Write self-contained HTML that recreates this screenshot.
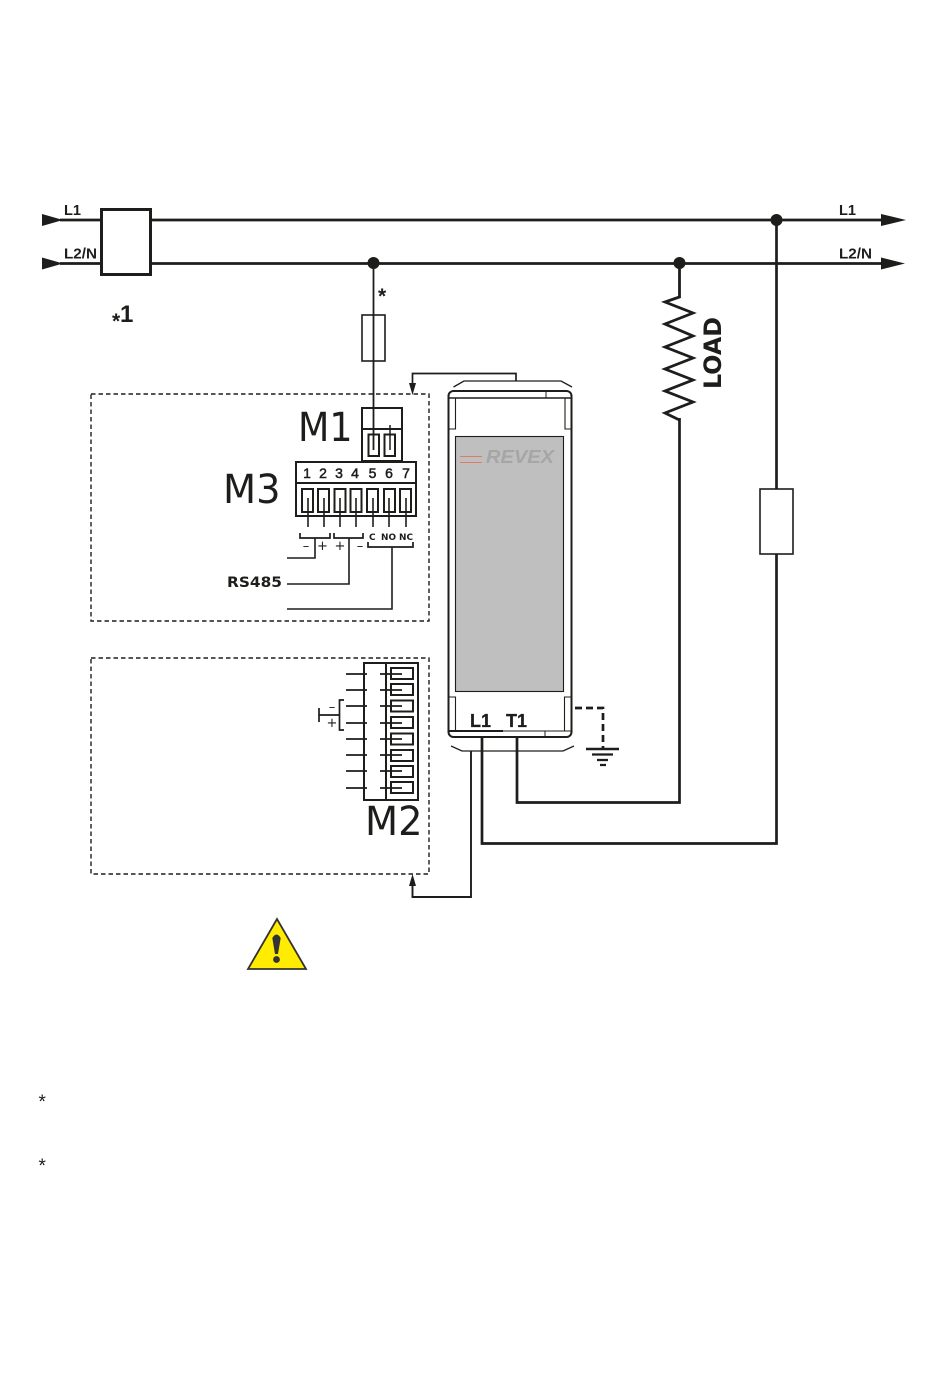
<!DOCTYPE html>
<html><head><meta charset="utf-8"><style>html,body{margin:0;padding:0;background:#fff}svg{display:block}text{fill:#1d1d1b}</style></head>
<body>
<svg width="950" height="1387" viewBox="0 0 950 1387" xmlns="http://www.w3.org/2000/svg" font-family="'Liberation Sans',sans-serif">
<rect width="950" height="1387" fill="#fff"/>
<g fill="none" stroke="#1d1d1b">
<!-- bus -->
<path d="M60 220H101M151 220H885M60 263.5H101M151 263.5H885" stroke-width="2.8"/>
<rect x="101.5" y="209.5" width="49" height="65" stroke-width="3"/>
<!-- dashed -->
<rect x="91" y="394" width="338" height="227" stroke-width="1.4" stroke-dasharray="4.5 3"/>
<rect x="91" y="658" width="338" height="216" stroke-width="1.4" stroke-dasharray="4.5 3"/>
<!-- fuse branch -->
<path d="M373.5 263V450" stroke-width="1.8"/>
<rect x="362" y="315" width="23" height="46" fill="#fff" stroke-width="1.6"/>
<path d="M373.5 315V361" stroke-width="1.8"/>
<!-- M1 -->
<rect x="362" y="408" width="40" height="53" stroke-width="2"/>
<path d="M362 429H402" stroke-width="2"/>
<rect x="368.5" y="434.5" width="10.5" height="21.5" stroke-width="2"/>
<rect x="384.5" y="434.5" width="10.5" height="21.5" stroke-width="2"/>
<path d="M390 425V450" stroke-width="1.5"/>
<!-- M3 -->
<rect x="296" y="462" width="120" height="54" stroke-width="2"/>
<path d="M296 483H416" stroke-width="2"/>
<g stroke-width="2">
<rect x="302" y="489" width="11" height="23"/><rect x="318" y="489" width="11" height="23"/>
<rect x="334.500" y="489" width="11" height="23"/><rect x="350.500" y="489" width="11" height="23"/>
<rect x="367" y="489" width="11" height="23"/><rect x="384" y="489" width="11" height="23"/>
<rect x="400" y="489" width="11" height="23"/>
</g>
<path d="M308 498V527M324 498V527M340 498V527M356 498V527M373 498V527M389 498V527M406 498V527" stroke-width="1.6"/>
<path d="M300 533V538H330V533M334 533V538H363V533M368 542V547H413V542" stroke-width="1.7"/>
<path d="M315 538V558H287M349 538V584H287M392 547V609H287" stroke-width="1.6"/>
<!-- M2 -->
<rect x="364" y="663" width="54" height="137" stroke-width="2"/>
<path d="M386 663V800" stroke-width="2"/>
<g stroke-width="2">
<rect x="391" y="668" width="22" height="11"/><rect x="391" y="684" width="22" height="11"/>
<rect x="391" y="700.500" width="22" height="11"/><rect x="391" y="717" width="22" height="11"/>
<rect x="391" y="733.500" width="22" height="11"/><rect x="391" y="750" width="22" height="11"/>
<rect x="391" y="766" width="22" height="11"/><rect x="391" y="782" width="22" height="11"/>
</g>
<path d="M346 674H367M380 674H402M346 690H367M380 690H402M346 706H367M380 706H402M346 723H367M380 723H402M346 739H367M380 739H402M346 755H367M380 755H402M346 771H367M380 771H402M346 788H367M380 788H402" stroke-width="1.7"/>
<path d="M344 700H339.500V730H344M319 715H339.500M319 708V722" stroke-width="1.7"/>
<!-- device -->
<rect x="448.500" y="391" width="123" height="346" rx="5" stroke-width="2"/>
<path d="M449 398H571" stroke-width="1.6"/>
<path d="M449 731H503" stroke-width="2"/>
<path d="M503 731H571" stroke-width="1.1"/>
<path d="M546 391V398M545 731V737" stroke-width="1"/>
<path d="M449 429H455.500V398M571 429H565V398M449 697H455.500V731M571 697H564.500V731" stroke-width="1.100"/>
<path d="M453.500 387L464 381H561L572 387" stroke-width="1.300"/>
<path d="M451 746L462 751H563L574 746" stroke-width="1.300"/>
<rect x="455.500" y="436.500" width="108" height="255" fill="#bfbfbf" stroke-width="1.100"/>
<path d="M460 456.500H482M460 462.500H482" stroke="#e27a68" stroke-width="1"/>
<!-- device wires -->
<path d="M516 381V373.500H412.500V385" stroke-width="1.700"/>
<path d="M471 751V897H412.500V885" stroke-width="1.900"/>
<path d="M482 737V843.500H776.500V220" stroke-width="2.700"/>
<path d="M517 737V802.500H679.500V418" stroke-width="2.700"/>
<rect x="760" y="489" width="33" height="65" fill="#fff" stroke-width="1.600"/>
<!-- load -->
<path d="M679.500 263.500V297L665 302L693 313L665 324L693 336L665 347L693 358L665 369L693 380L665 391L693 402L665 413L679.500 420" stroke-width="2.800"/>
<!-- ground -->
<path d="M575 708H603V748" stroke-width="2.700" stroke-dasharray="7 4"/>
<path d="M586 749H619" stroke-width="2.400"/>
<path d="M592 754.500H613M597 760H608M600 765H606" stroke-width="2.200"/>
</g>
<g fill="#1d1d1b">
<path d="M42 214L63 220L42 226ZM42 257.500L63 263.500L42 269.500ZM881 214L906 220L881 226ZM881 257.500L905 263.500L881 269.500Z"/>
<circle cx="373.500" cy="263" r="6"/><circle cx="679.500" cy="263" r="6"/><circle cx="776.500" cy="220" r="6"/>
<path d="M412.500 395L409 383H416Z"/>
<path d="M412.500 874L409 886H416Z"/>
</g>
<!-- warning -->
<path d="M277 919L248 969H306Z" fill="#ffec00" stroke="#333" stroke-width="1.800" stroke-linejoin="miter"/>
<path d="M272.300 938Q276.500 931 280.700 938L278 954H275Z" fill="#333"/>
<circle cx="276.500" cy="959.500" r="3.400" fill="#333"/>
<!-- labels -->
<g font-weight="bold" font-size="15">
<text x="64" y="215" textLength="17" lengthAdjust="spacingAndGlyphs">L1</text><text x="64" y="258.500" textLength="33" lengthAdjust="spacingAndGlyphs">L2/N</text>
<text x="839" y="215" textLength="17" lengthAdjust="spacingAndGlyphs">L1</text><text x="839" y="258.500" textLength="33" lengthAdjust="spacingAndGlyphs">L2/N</text>
</g>
<text x="112" y="328" font-size="21" font-weight="bold">*</text>
<text x="120" y="322" font-size="24" font-weight="bold">1</text>
<text x="378" y="303" font-size="21" font-weight="bold">*</text>
<g font-family="'DejaVu Sans',sans-serif" font-size="40">
<text x="298" y="441" textLength="54.500" lengthAdjust="spacingAndGlyphs">M1</text>
<text x="223" y="503" textLength="57.500" lengthAdjust="spacingAndGlyphs">M3</text>
<text x="365" y="835" textLength="57.500" lengthAdjust="spacingAndGlyphs">M2</text>
</g>
<g font-size="14" text-anchor="middle" stroke="#1d1d1b" stroke-width=".5">
<text x="307" y="478">1</text><text x="323" y="478">2</text><text x="339" y="478">3</text><text x="355" y="478">4</text><text x="372.500" y="478">5</text><text x="389" y="478">6</text><text x="406" y="478">7</text>
</g>
<g font-family="'DejaVu Sans',sans-serif" font-size="9" font-weight="bold">
<text x="369" y="540">C</text><text x="381" y="540" textLength="15" lengthAdjust="spacingAndGlyphs">NO</text><text x="399" y="540" textLength="14" lengthAdjust="spacingAndGlyphs">NC</text>
</g>
<g font-size="13" text-anchor="middle" font-family="'DejaVu Sans',sans-serif">
<text x="306" y="550">–</text><text x="322.500" y="550">+</text><text x="340" y="550">+</text><text x="360" y="550">–</text>
<text x="332" y="711">–</text><text x="332" y="727">+</text>
</g>
<text x="227" y="587" font-family="'DejaVu Sans',sans-serif" font-size="14" font-weight="bold" textLength="55" lengthAdjust="spacingAndGlyphs">RS485</text>
<g font-size="18" font-weight="bold" stroke="#1d1d1b" stroke-width=".3">
<text x="470" y="727" textLength="21" lengthAdjust="spacingAndGlyphs">L1</text>
<text x="506" y="727" textLength="21" lengthAdjust="spacingAndGlyphs">T1</text>
</g>
<text x="486" y="463" font-size="18" font-weight="bold" font-style="italic" style="fill:#a6a6a6" textLength="68" lengthAdjust="spacingAndGlyphs">REVEX</text>
<text transform="translate(721,389) rotate(-90)" font-family="'DejaVu Sans',sans-serif" font-size="24" font-weight="bold" textLength="72" lengthAdjust="spacingAndGlyphs">LOAD</text>
<text x="38.500" y="1108" font-size="19">*</text>
<text x="38.500" y="1172" font-size="19">*</text>
</svg>
</body></html>
